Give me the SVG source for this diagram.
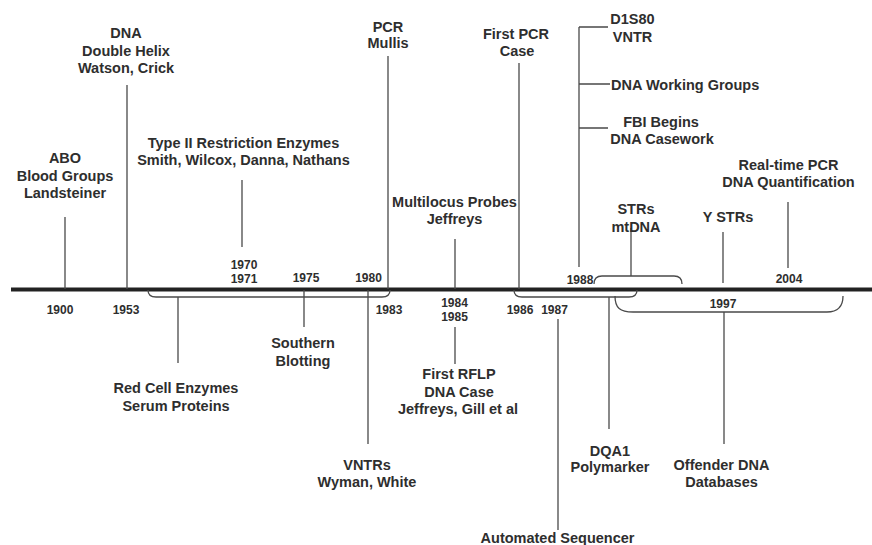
<svg xmlns="http://www.w3.org/2000/svg" width="872" height="545" viewBox="0 0 872 545">
<style>
text{font-family:"Liberation Sans",Arial,sans-serif;font-weight:bold;fill:#2e2e2e;text-anchor:middle}
.t{font-size:14.5px}
.y{font-size:12px}
.c{stroke:#4a4a4a;stroke-width:1.3;fill:none}
.axis{stroke:#222;stroke-width:4}
</style>
<rect width="872" height="545" fill="#fff"/>
<line class="axis" x1="11" y1="289.5" x2="872" y2="289.5"/>
<g id="connectors">
<path class="c" d="M65,217V289M127,85V289M242,180V247M388,56V289M455,239V289M519,63V289M579,27V267M579,27H608M579,84H610M579,128H608M631,228V276M723,232V283M788,202V268"/>
<path class="c" d="M594,284Q594,276 602,276H674Q682,276 682,284"/>
<path class="c" d="M148,290Q148,297 156,297H382Q390,297 390,290"/>
<path class="c" d="M178,297V363M304,290V327M368,290V444M455,327V364"/>
<path class="c" d="M514,290Q514,297 522,297H629Q637,297 637,290"/>
<path class="c" d="M558,319V530M609,297V429"/>
<path class="c" d="M615,296C615,308 620,312 633,312H827C838,312 843,306 843,296"/>
<path class="c" d="M724,312V444"/>
</g>
<g id="abo"><text class="t" x="65" y="163">ABO</text><text class="t" x="65" y="180.5">Blood Groups</text><text class="t" x="65" y="198">Landsteiner</text></g>
<g id="dna"><text class="t" x="126" y="38">DNA</text><text class="t" x="126" y="56">Double Helix</text><text class="t" x="126" y="73">Watson, Crick</text></g>
<g id="type2"><text class="t" x="243.5" y="148">Type II Restriction Enzymes</text><text class="t" x="243.5" y="165">Smith, Wilcox, Danna, Nathans</text></g>
<g id="pcr"><text class="t" x="388" y="32">PCR</text><text class="t" x="388" y="48">Mullis</text></g>
<g id="firstpcr"><text class="t" x="516" y="39">First PCR</text><text class="t" x="517" y="56">Case</text></g>
<g id="d1s80"><text class="t" x="632.5" y="24">D1S80</text><text class="t" x="632.5" y="42">VNTR</text></g>
<g id="working"><text class="t" x="611" y="90" style="text-anchor:start">DNA Working Groups</text></g>
<g id="fbi"><text class="t" x="661" y="127">FBI Begins</text><text class="t" x="662" y="144">DNA Casework</text></g>
<g id="multilocus"><text class="t" x="454.5" y="207">Multilocus Probes</text><text class="t" x="454.5" y="224">Jeffreys</text></g>
<g id="strs"><text class="t" x="636" y="214">STRs</text><text class="t" x="636" y="232">mtDNA</text></g>
<g id="ystrs"><text class="t" x="728" y="222">Y STRs</text></g>
<g id="realtime"><text class="t" x="788.5" y="170">Real-time PCR</text><text class="t" x="788.5" y="187">DNA Quantification</text></g>
<g id="redcell"><text class="t" x="176" y="393">Red Cell Enzymes</text><text class="t" x="176" y="411">Serum Proteins</text></g>
<g id="southern"><text class="t" x="303" y="348">Southern</text><text class="t" x="303" y="366">Blotting</text></g>
<g id="vntrs"><text class="t" x="367" y="470">VNTRs</text><text class="t" x="367" y="487">Wyman, White</text></g>
<g id="rflp"><text class="t" x="459" y="379">First RFLP</text><text class="t" x="459" y="397">DNA Case</text><text class="t" x="458" y="414">Jeffreys, Gill et al</text></g>
<g id="dqa1"><text class="t" x="610" y="456">DQA1</text><text class="t" x="610" y="472">Polymarker</text></g>
<g id="offender"><text class="t" x="721.5" y="470">Offender DNA</text><text class="t" x="721.5" y="487">Databases</text></g>
<g id="sequencer"><text class="t" x="557.5" y="543">Automated Sequencer</text></g>
<g id="years">
<text class="y" x="60" y="314">1900</text>
<text class="y" x="126" y="314">1953</text>
<text class="y" x="244" y="269">1970</text>
<text class="y" x="244" y="283">1971</text>
<text class="y" x="306" y="282">1975</text>
<text class="y" x="368.5" y="282">1980</text>
<text class="y" x="389" y="314">1983</text>
<text class="y" x="454.5" y="307">1984</text>
<text class="y" x="454.5" y="321">1985</text>
<text class="y" x="520" y="314">1986</text>
<text class="y" x="554.5" y="314">1987</text>
<text class="y" x="580" y="284">1988</text>
<text class="y" x="723" y="308">1997</text>
<text class="y" x="789" y="283">2004</text>
</g>
</svg>
